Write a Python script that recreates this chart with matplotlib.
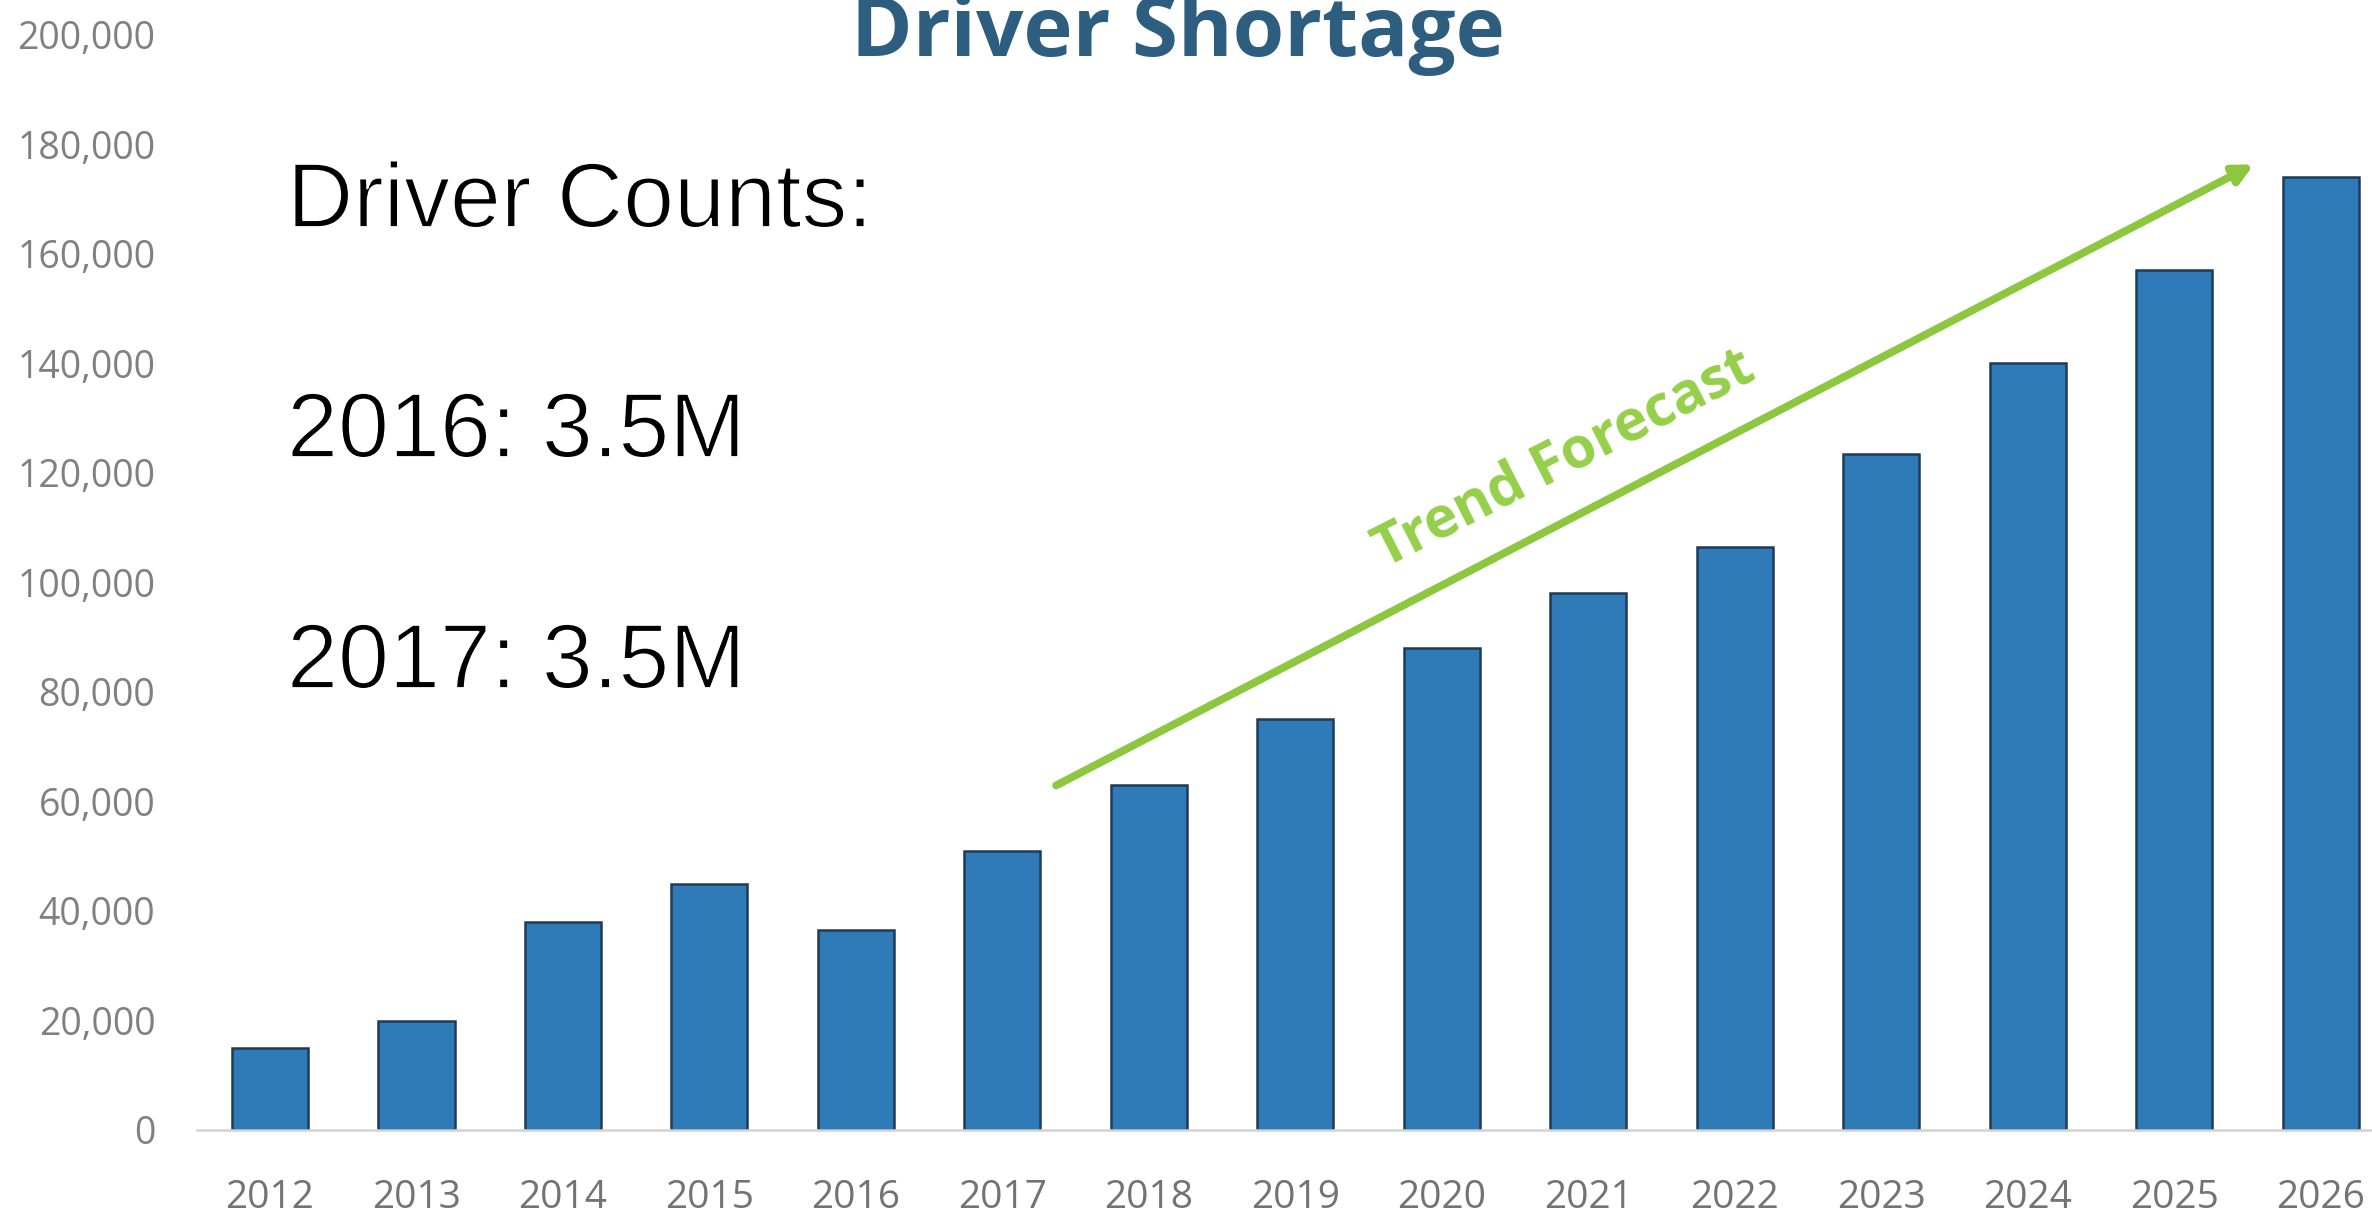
import matplotlib
matplotlib.use("Agg")
import matplotlib.pyplot as plt
import matplotlib.patheffects as pe
from matplotlib.patches import FancyArrowPatch
from matplotlib.ticker import FuncFormatter

# data
years = ["2012", "2013", "2014", "2015", "2016", "2017", "2018", "2019",
         "2020", "2021", "2022", "2023", "2024", "2025", "2026"]
shortage = [15000, 20000, 38000, 45000, 36500, 51000, 63000, 75000,
            88000, 98000, 106500, 123500, 140000, 157000, 174000]
y_ticks = list(range(0, 200001, 20000))

title_text = "Driver Shortage"
note_lines = ["Driver Counts:", "2016: 3.5M", "2017: 3.5M"]
trend_label = "Trend Forecast"
# trend arrow (x in bar index units, y in drivers)
trend_start = (5.35, 62700)
trend_end = (13.56, 176600)

W, H = 2372, 1219
fig = plt.figure(figsize=(W / 100, H / 100), dpi=100)
ax = fig.add_axes([197 / W, 1 - 1130 / H, 1 - 197 / W, (1130 - 35) / H])

x = list(range(len(years)))
ax.bar(x, shortage, width=0.52, color="#2e7bb7", edgecolor="#1f3b57",
       linewidth=1.8, zorder=2)

ax.set_xlim(-0.498, 14.35)
ax.set_ylim(0, 200000)
ax.set_yticks(y_ticks)
ax.yaxis.set_major_formatter(FuncFormatter(lambda v, p: f"{int(v):,}"))
ax.set_xticks(x)
ax.set_xticklabels(years)

for s in ["top", "right", "left"]:
    ax.spines[s].set_visible(False)
ax.spines["bottom"].set_color("#d3d3d3")
ax.spines["bottom"].set_linewidth(1.8)

tick_font = ["Open Sans", "DejaVu Sans"]
ax.tick_params(axis="y", length=0, pad=30, labelsize=27, labelcolor="#808080")
ax.tick_params(axis="x", length=0, pad=35, labelsize=28, labelcolor="#737373")
for lab in ax.get_xticklabels() + ax.get_yticklabels():
    lab.set_family(tick_font)

# title, cut at top like the source
fig.text(1178 / W, 1 - 56 / H, title_text, ha="center", va="baseline",
         fontsize=60, fontweight="bold", color="#2d5d7f",
         family=["Open Sans", "DejaVu Sans"])

# the driver counts note (white stroke on top thins the glyphs a bit)
thin = [pe.Normal(), pe.Stroke(linewidth=1.3, foreground="white")]
for line, base in zip(note_lines, [227, 457, 688]):
    fig.text(287 / W, 1 - base / H, line, ha="left", va="baseline",
             fontsize=66, color="black", path_effects=thin,
             family=["Liberation Sans", "DejaVu Sans"])

# trend arrow
arr = FancyArrowPatch(trend_start, trend_end, arrowstyle="-|>",
                      mutation_scale=28, color="#8dc63f", linewidth=5.6,
                      zorder=3)
ax.add_patch(arr)
ax.text(8.84, 122500, trend_label, rotation=27, ha="center", va="center",
        rotation_mode="anchor", fontsize=41, fontweight="bold",
        color="#95cf4a", family=["Open Sans", "DejaVu Sans"])

fig.savefig("out.png", dpi=100)
